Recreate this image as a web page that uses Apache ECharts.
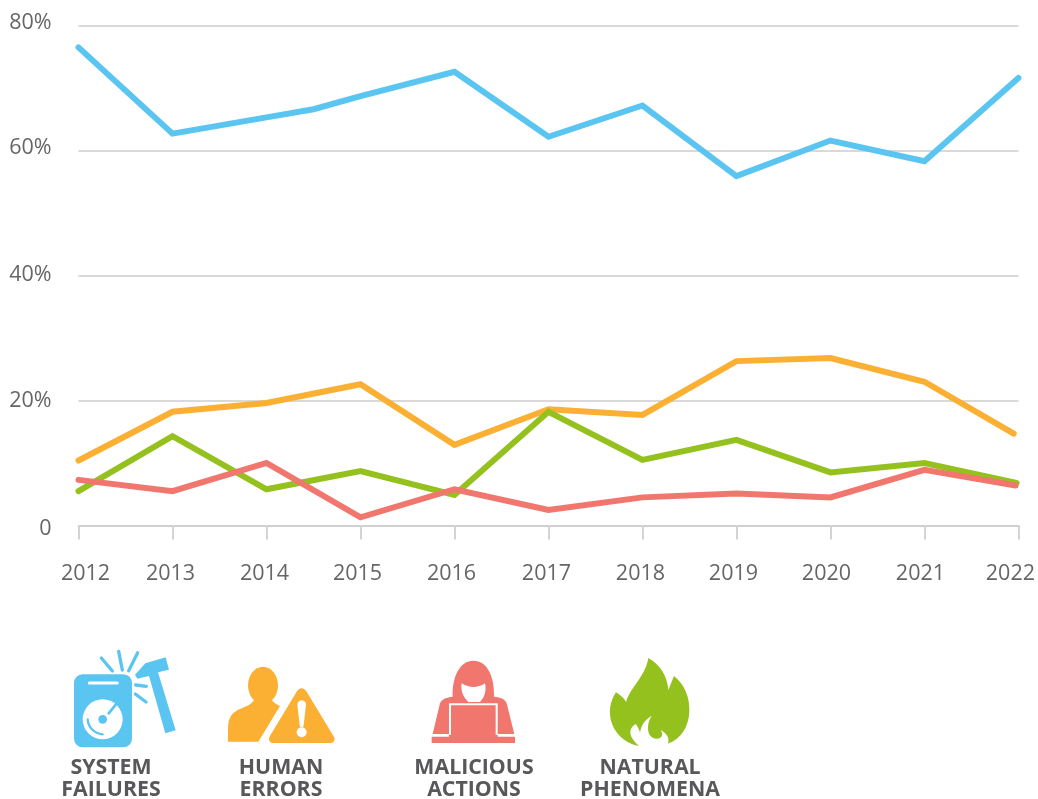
<!DOCTYPE html>
<html><head><meta charset="utf-8">
<style>html,body{margin:0;padding:0;background:#fff}#c{width:1038px;height:799px}</style>
<script src="https://cdn.jsdelivr.net/npm/echarts@6/dist/echarts.min.js"></script>
</head><body><div id="c"></div>
<script>
const years=[2012,2013,2014,2015,2016,2017,2018,2019,2020,2021,2022];
const systemFailures=[76.5,62.7,65.3,68.7,72.6,62.2,67.2,55.9,61.6,58.3,71.6];
const humanErrors=[10.4,18.2,19.6,22.6,12.9,18.6,17.7,26.3,26.8,23.0,14.7];
const naturalPhenomena=[5.5,14.3,5.8,8.7,4.9,18.2,10.5,13.7,8.5,10.0,6.8];
const maliciousActions=[7.3,5.5,10.0,1.3,5.8,2.5,4.5,5.1,4.5,8.9,6.4];
const systemKink=[2014.5,66.6];
const yTicks=[0,20,40,60,80];
const xLabelShift={2012:7,2013:-2,2014:-2,2015:-3,2016:-3,2017:-2,2018:-2,2019:-3,2020:-4,2021:-4,2022:-8};
const yLabelShift={0:3,20:0,40:-1,60:-3,80:-3};
const lastX={human:2021.95,natural:2021.98,malicious:2021.97,system:2022};
const legendNames=["SYSTEM\nFAILURES","HUMAN\nERRORS","MALICIOUS\nACTIONS","NATURAL\nPHENOMENA"];
const colors={blue:"#5BC5F2",orange:"#FBB034",green:"#95C11F",red:"#F0766E"};

function pts(vals,last){return vals.map((v,i)=>[i===vals.length-1?last:years[i],v]);}
const sysPts=pts(systemFailures,lastX.system);sysPts.splice(3,0,systemKink);

function lineSeries(name,data,color){return{name,type:"line",data,symbol:"none",smooth:false,clip:false,
  lineStyle:{width:6,color,cap:"round",join:"miter"},itemStyle:{color},silent:true,animation:false};}

const xRich={},yRich={};
years.forEach(y=>{const s=xLabelShift[y];xRich["x"+y]=s>0?{padding:[0,0,0,2*s]}:{padding:[0,-2*s,0,0]};});
yTicks.forEach(t=>{const s=yLabelShift[t];yRich["y"+t]=s>0?{padding:[2*s,0,0,0]}:{padding:[0,0,-2*s,0]};});

/* icons are decoration: path coordinates are in 3x crop space, scaled to page px */
let shapeId=0;
function shapeFor(d){const n="iconShape"+(shapeId++);echarts.graphic.registerShape(n,echarts.graphic.extendPath(d,{}));return n;}
function icon(ox,children){return{type:"group",x:ox,y:640,scaleX:1/3,scaleY:1/3,silent:true,children};}
const W="#fff";
function P(d,fill){return{type:shapeFor(d),shape:{},style:{fill}};}
function L(d,stroke,w){return{type:shapeFor(d),shape:{},style:{fill:null,stroke,lineWidth:w,lineCap:"round"}};}
function C(cx,cy,r,fill){return{type:"circle",shape:{cx,cy,r},style:{fill}};}

const sysIcon=icon(0,[
  {type:"rect",shape:{x:222,y:103,width:174,height:219,r:26},style:{fill:colors.blue}},
  L("M268 129L352 129",W,9),
  C(308,238,60,W),
  L("M326 220L352 188",colors.blue,8),
  C(308,238,13,colors.blue),
  L("M263 238C265 262 282 280 308 283",colors.blue,7),
  L("M337 93L304 54",colors.blue,10),
  L("M367 90L356 34",colors.blue,10),
  L("M386 92L413 38",colors.blue,10),
  L("M407 135L439 139",colors.blue,10),
  L("M406 162L438 186",colors.blue,10),
  P("M405 104L436 70L497 52L507 89L474 97L527 271L496 280L447 108L412 116Z",colors.blue)
]);
const humanIcon=icon(0,[
  {type:"ellipse",shape:{cx:789,cy:136,rx:45,ry:56},style:{fill:colors.orange}},
  P("M684 305L684 268C684 232 696 216 722 206C744 198 760 190 766 172L812 172C814 184 826 192 840 198L775 305Z",colors.orange),
  P("M890 155C898 141 912 141 920 155L998 284C1010 298 1002 309 988 309L822 309C808 309 802 298 812 284Z",colors.orange),
  P("M892 194C892 176 918 176 918 194L911 256C910 264 900 264 899 256Z",W),
  C(905,277,15,W)
]);
const malIcon=icon(380,[
  P("M158 282L180 190C186 176 200 172 218 170C216 110 240 62 280 62C322 62 344 110 342 170C362 172 374 176 380 190L403 282L353 282L353 190L207 190L207 282Z",colors.red),
  P("M155 290L207 290L207 284L213 284L213 196L347 196L347 284L353 284L353 290L405 290L405 309L155 309Z",colors.red),
  P("M245 130C258 138 270 141 280 141C292 141 304 138 315 130C320 152 314 172 300 186L265 186C250 172 241 152 245 130Z",W)
]);
const fireIcon=icon(380,[
  P("M805 54C842 74 862 110 865 150L882 108C912 132 930 170 928 214C926 262 904 296 864 311C868 298 866 284 842 270C850 282 848 296 830 296C812 296 804 282 804 264C804 250 808 238 815 228C796 238 784 254 780 278C778 268 772 260 768 252C752 260 746 276 756 294C762 304 770 312 777 318C728 308 694 270 690 224C688 200 696 174 708 157C720 164 732 174 738 186C752 140 796 110 805 54Z",colors.green)
]);

function legendText(i,cx){return{type:"text",x:cx,y:779,silent:true,style:{text:legendNames[i],fill:"#58585a",
  font:"700 21.3px 'Open Sans'",lineHeight:22,align:"center",verticalAlign:"middle"}};}

const chart=echarts.init(document.getElementById("c"),null,{renderer:"canvas"});
chart.setOption({
  animation:false,backgroundColor:"#fff",
  grid:{left:78.5,right:19,top:25.5,height:500,containLabel:false},
  xAxis:{type:"value",min:2012,max:2022,interval:1,
    axisLine:{show:true,onZero:false,lineStyle:{color:"#d0d0d0",width:2}},
    axisTick:{show:true,length:14,lineStyle:{color:"#d4d4d4",width:2}},
    splitLine:{show:false},
    axisLabel:{margin:37,fontFamily:"Open Sans",fontSize:21.5,color:"#666",showMinLabel:true,showMaxLabel:true,
      formatter:v=>`{x${v}|${v}}`,rich:xRich}},
  yAxis:{type:"value",min:0,max:80,interval:20,
    axisLine:{show:false},axisTick:{show:false},
    splitLine:{lineStyle:{color:"#cccccc",width:1.5}},
    axisLabel:{margin:27,fontFamily:"Open Sans",fontSize:21.5,color:"#666",
      formatter:v=>`{y${v}|${v===0?"0":v+"%"}}`,rich:yRich}},
  series:[
    lineSeries("System failures",sysPts,colors.blue),
    lineSeries("Human errors",pts(humanErrors,lastX.human),colors.orange),
    lineSeries("Natural phenomena",pts(naturalPhenomena,lastX.natural),colors.green),
    lineSeries("Malicious actions",pts(maliciousActions,lastX.malicious),colors.red)
  ],
  graphic:[sysIcon,humanIcon,malIcon,fireIcon,
    legendText(0,111),legendText(1,281),legendText(2,474),legendText(3,650)]
});
</script></body></html>
